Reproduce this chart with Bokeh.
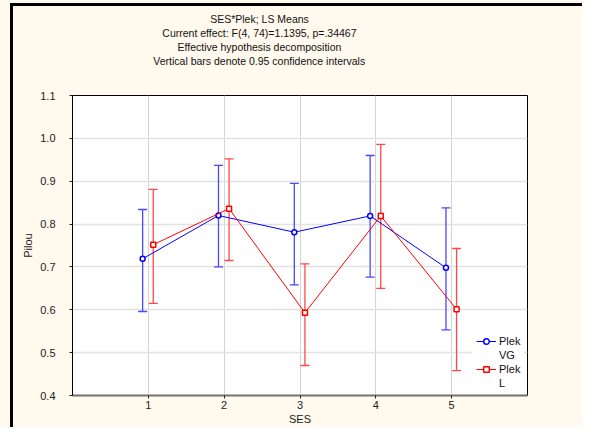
from bokeh.plotting import figure
from bokeh.models import (ColumnDataSource, Whisker, TeeHead, Legend, LegendItem,
                          FixedTicker, PrintfTickFormatter, Title)
from bokeh.embed import file_html
from bokeh.resources import INLINE

# ---- data ----
ses = [1, 2, 3, 4, 5]
vg_mean = [0.719, 0.820, 0.781, 0.819, 0.698]
vg_low = [0.596, 0.700, 0.658, 0.676, 0.553]
vg_high = [0.834, 0.937, 0.895, 0.960, 0.838]
l_mean = [0.752, 0.836, 0.593, 0.819, 0.601]
l_low = [0.615, 0.715, 0.470, 0.650, 0.458]
l_high = [0.881, 0.952, 0.707, 0.986, 0.743]
y_ticks = [0.4, 0.5, 0.6, 0.7, 0.8, 0.9, 1.0, 1.1]
x_ticks = [1, 2, 3, 4, 5]
title_lines = ["SES*Plek; LS Means",
               "Current effect: F(4, 74)=1.1395, p=.34467",
               "Effective hypothesis decomposition",
               "Vertical bars denote 0.95 confidence intervals"]
legend_vg = ["Plek", "VG"]
legend_l = ["Plek", "L"]

FONT = "Liberation Sans"
CREAM = "#FFF9EE"

W, H = 582, 427
ML, MR, MT, MB = 72, 55, 95, 32
FW = W - ML - MR

_AW = {" ": 278, "*": 389, "(": 333, ")": 333, ",": 278, ".": 278, ":": 278, ";": 278,
       "=": 584, "C": 722, "E": 667, "F": 611, "L": 556, "M": 833, "P": 667, "S": 667,
       "V": 667, "a": 556, "b": 556, "c": 500, "d": 556, "e": 556, "f": 278, "h": 556,
       "i": 222, "k": 500, "l": 222, "m": 833, "n": 556, "o": 556, "p": 556, "r": 333,
       "s": 500, "t": 278, "u": 556, "v": 500, "y": 500}


def text_width(s, size):
    return sum(_AW.get(ch, 556) for ch in s) * size / 1000.0


p = figure(width=W, height=H, output_backend="svg", toolbar_location=None,
           x_range=(0, 6), y_range=(0.4, 1.1),
           min_border_left=ML, min_border_right=MR, min_border_top=MT, min_border_bottom=MB)
p.title.visible = False
p.border_fill_alpha = 0
p.background_fill_color = "white"
p.outline_line_color = "black"
p.outline_line_width = 1
p.styles = {
    "background": ("linear-gradient(#000,#000) 10px 3px / 3px 100% no-repeat, "
                   "linear-gradient(#000,#000) 10px 3px / 100% 3px no-repeat, " + CREAM),
}

for ax in (p.xaxis[0], p.yaxis[0]):
    ax.major_label_text_font = FONT
    ax.major_label_text_font_size = "11px"
    ax.major_label_text_color = "#222222"
    ax.axis_label_text_font = FONT
    ax.axis_label_text_font_size = "11px"
    ax.axis_label_text_font_style = "normal"
    ax.axis_label_text_color = "#222222"
    ax.minor_tick_line_color = None
    ax.major_tick_in = 0
    ax.major_tick_out = 3
    ax.major_tick_line_color = "#222222"

p.xaxis.ticker = FixedTicker(ticks=x_ticks)
p.xaxis.axis_label = "SES"
p.xaxis.axis_line_color = "#707070"
p.xaxis.axis_line_width = 2
p.xaxis.major_label_standoff = 2
p.xaxis.axis_label_standoff = 1

p.yaxis.ticker = FixedTicker(ticks=y_ticks)
p.yaxis.formatter = PrintfTickFormatter(format="%.1f")
p.yaxis.axis_label = "Pilou"
p.yaxis.axis_line_color = "black"
p.yaxis.major_label_standoff = 14
p.yaxis.axis_label_standoff = 3

p.xgrid.grid_line_color = "#d4d4d4"
p.ygrid.grid_line_color = "#e2e2e2"
p.ygrid.grid_line_width = 1.5

vg_x = [s - 0.075 for s in ses]
l_x = [s + 0.065 for s in ses]
src_vg = ColumnDataSource(dict(x=vg_x, y=vg_mean, lo=vg_low, hi=vg_high))
src_l = ColumnDataSource(dict(x=l_x, y=l_mean, lo=l_low, hi=l_high))

BLUE, BLUE_BAR = "#0000ff", "#4848ff"
RED, RED_BAR = "#ff0000", "#ff4848"

p.add_layout(Whisker(source=src_vg, base="x", lower="lo", upper="hi", dimension="height",
                     line_color=BLUE_BAR, line_width=1.3,
                     upper_head=TeeHead(size=9, line_color=BLUE_BAR, line_width=1.3),
                     lower_head=TeeHead(size=9, line_color=BLUE_BAR, line_width=1.3)))
p.add_layout(Whisker(source=src_l, base="x", lower="lo", upper="hi", dimension="height",
                     line_color=RED_BAR, line_width=1.3,
                     upper_head=TeeHead(size=9, line_color=RED_BAR, line_width=1.3),
                     lower_head=TeeHead(size=9, line_color=RED_BAR, line_width=1.3)))

lv = p.line("x", "y", source=src_vg, line_color=BLUE, line_width=1)
sv = p.scatter("x", "y", source=src_vg, marker="circle", size=5, line_color=BLUE,
               fill_color="white", line_width=1.5)
ll = p.line("x", "y", source=src_l, line_color=RED, line_width=1)
sl = p.scatter("x", "y", source=src_l, marker="square", size=5, line_color=RED,
               fill_color="white", line_width=1.5)
blank = p.line(x=[], y=[], line_alpha=0)

TS = 10.5
CENTER = 259 - ML
p.add_layout(Title(text=" ", text_font=FONT, text_font_size=f"{TS}px", standoff=15), "above")
for txt in reversed(title_lines):
    p.add_layout(Title(text=txt, align="left", offset=CENTER - text_width(txt, TS) / 2,
                       text_font=FONT, text_font_size=f"{TS}px", text_font_style="normal",
                       text_color="#111111", standoff=0), "above")

legend = Legend(items=[LegendItem(label=legend_vg[0], renderers=[lv, sv]),
                       LegendItem(label=legend_vg[1], renderers=[blank]),
                       LegendItem(label=legend_l[0], renderers=[ll, sl]),
                       LegendItem(label=legend_l[1], renderers=[blank])],
                location=(FW - 55, 1), orientation="vertical")
legend.label_text_font = FONT
legend.label_text_font_size = "11px"
legend.label_text_color = "#111111"
legend.background_fill_color = "white"
legend.background_fill_alpha = 1
legend.border_line_alpha = 0
legend.padding = 4
legend.margin = 0
legend.spacing = 0
legend.glyph_width = 20
legend.glyph_height = 14
legend.label_standoff = 3
legend.label_height = 14
p.add_layout(legend, "center")

open("out.html", "w").write(file_html(p, INLINE))
